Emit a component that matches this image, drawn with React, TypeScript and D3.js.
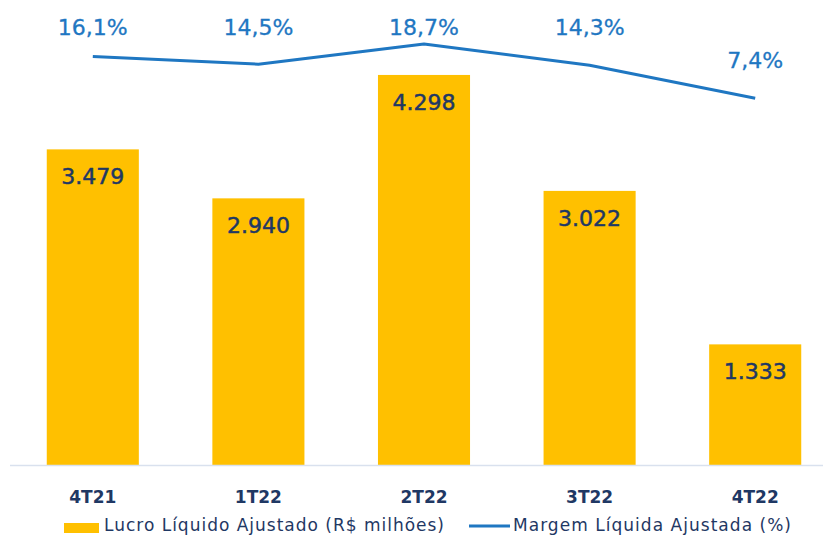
import React from "react";
import * as d3 from "d3";

const categories = ["4T21", "1T22", "2T22", "3T22", "4T22"];
const lucro = [3479, 2940, 4298, 3022, 1333];
const lucroLabels = ["3.479", "2.940", "4.298", "3.022", "1.333"];
const margem = [16.1, 14.5, 18.7, 14.3, 7.4];
const margemLabels = ["16,1%", "14,5%", "18,7%", "14,3%", "7,4%"];
const legendLabels = ["Lucro Líquido Ajustado (R$ milhões)", "Margem Líquida Ajustada (%)"];

const W = 823;
const H = 535;
const FONT = "'DejaVu Sans', Verdana, sans-serif";
const GOLD = "#FFC000";
const BLUE = "#1F77C2";
const NAVY = "#1F3864";

export default function App() {
  const x = d3
    .scaleBand<string>()
    .domain(categories)
    .range([10, 838])
    .paddingInner(0.444)
    .paddingOuter(0.222);
  const y = d3.scaleLinear().domain([0, 4500]).range([465.5, 56.6]);
  const yl = d3.scaleLinear().domain([0, 20]).range([133.8, 37.8]);
  const cx = (c: string) => (x(c) ?? 0) + x.bandwidth() / 2;
  const line = d3
    .line<number>()
    .x((_, i) => cx(categories[i]))
    .y((d) => yl(d));

  return (
    <svg
      width={W}
      height={H}
      style={{ position: "absolute", left: 0, top: 0, background: "#fff" }}
      fontFamily={FONT}
    >
      {categories.map((c, i) => (
        <rect key={c} x={x(c)} y={y(lucro[i])} width={x.bandwidth()} height={y(0) - y(lucro[i])} fill={GOLD} />
      ))}
      <line x1={10} x2={823} y1={465.5} y2={465.5} stroke="#D9E1EE" strokeWidth={1.5} />
      {categories.map((c, i) => (
        <text
          key={c + "v"}
          x={cx(c)}
          y={y(lucro[i]) + 35}
          textAnchor="middle"
          fontSize={22}
          fill={NAVY}
          stroke={NAVY}
          strokeWidth={0.5}
        >
          {lucroLabels[i]}
        </text>
      ))}
      <path d={line(margem) ?? ""} fill="none" stroke={BLUE} strokeWidth={3} strokeLinejoin="round" />
      {categories.map((c, i) => (
        <text
          key={c + "m"}
          x={cx(c)}
          y={Math.max(27, yl(margem[i]) - 38) + 8}
          textAnchor="middle"
          fontSize={22}
          fill={BLUE}
          stroke={BLUE}
          strokeWidth={0.3}
        >
          {margemLabels[i]}
        </text>
      ))}
      {categories.map((c) => (
        <text key={c + "c"} x={cx(c)} y={503} textAnchor="middle" fontSize={17} fontWeight="bold" fill={NAVY}>
          {c}
        </text>
      ))}
      <rect x={64} y={523} width={35} height={10} fill={GOLD} />
      <text x={104} y={531} fontSize={17} fill={NAVY} textLength={340} lengthAdjust="spacing">
        {legendLabels[0]}
      </text>
      <line x1={469} x2={510} y1={526} y2={526} stroke={BLUE} strokeWidth={3} />
      <text x={513} y={531} fontSize={17} fill={NAVY} textLength={278} lengthAdjust="spacing">
        {legendLabels[1]}
      </text>
    </svg>
  );
}
